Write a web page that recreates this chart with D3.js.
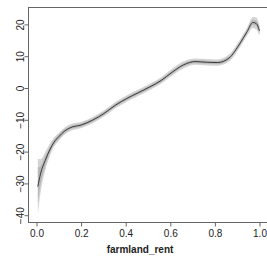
<!DOCTYPE html>
<html>
<head>
<meta charset="utf-8">
<script src="https://cdn.jsdelivr.net/npm/d3@7"></script>
<style>
  body { margin: 0; background: #fff; }
  svg { display: block; font-family: "Liberation Sans", Arial, sans-serif; }
</style>
</head>
<body>
<div id="chart"></div>
<script>
// partial dependence of farmland_rent
var xs   = [0.006, 0.018, 0.039, 0.059, 0.079, 0.1, 0.125, 0.151, 0.202, 0.252, 0.303, 0.354, 0.405, 0.456, 0.507, 0.558, 0.609, 0.66, 0.711, 0.762, 0.812, 0.863, 0.914, 0.945, 0.97, 0.985, 1.0];
var fit  = [-31, -27, -22.8, -19.5, -17, -15.3, -13.6, -12.5, -11.6, -10.1, -8, -5.4, -3.3, -1.5, 0.3, 2.3, 5, 7.3, 8.3, 8.1, 8.0, 9.4, 14.2, 17.8, 20.6, 20.3, 18];
var hiOut = [-22.2, -22.4, -20.2, -17.6, -15.6, -14.1, -12.5, -11.4, -10.6, -9.1, -7, -4.4, -2.3, -0.5, 1.3, 3.3, 6.1, 8.4, 9.3, 9.1, 9.0, 10.5, 15.4, 19.1, 22.3, 22.2, 19.8];
var loOut = [-39.8, -33, -26, -21.6, -18.5, -16.6, -14.7, -13.6, -12.6, -11.1, -9, -6.4, -4.3, -2.5, -0.7, 1.3, 3.9, 6.2, 7.3, 7.1, 7.0, 8.3, 13, 16.5, 18.9, 18.4, 16.3];
var hiIn = [-25, -24.5, -21.5, -18.6, -16.3, -14.7, -13.0, -12.0, -11.1, -9.6, -7.5, -4.9, -2.8, -1.0, 0.8, 2.8, 5.5, 7.8, 8.8, 8.6, 8.5, 9.9, 14.8, 18.4, 21.4, 21.2, 18.9];
var loIn = [-36, -30.5, -24.5, -20.6, -17.8, -16.0, -14.2, -13.0, -12.1, -10.6, -8.5, -5.9, -3.8, -2.0, -0.2, 1.8, 4.5, 6.8, 7.8, 7.6, 7.5, 8.9, 13.6, 17.2, 19.8, 19.4, 17.2];

var xTicks = [0, 0.2, 0.4, 0.6, 0.8, 1.0];
var yTicks = [-40, -30, -20, -10, 0, 10, 20];
var xLabel = "farmland_rent";

var width = 267, height = 264;
var box = {left: 28.5, top: 7.5, right: 275, bottom: 222.5};

var svg = d3.select("#chart").append("svg")
  .attr("width", width)
  .attr("height", height);

var x = d3.scaleLinear().domain([0, 1]).range([36.5, 259.5]);
var y = d3.scaleLinear().domain([-40, 20]).range([215.2, 24.4]);

var data = xs.map(function(d, i) {
  return {x: d, fit: fit[i], hiOut: hiOut[i], loOut: loOut[i], hiIn: hiIn[i], loIn: loIn[i]};
});

// bands
var areaOut = d3.area()
  .x(function(d) { return x(d.x); })
  .y0(function(d) { return y(d.loOut); })
  .y1(function(d) { return y(d.hiOut); })
  .curve(d3.curveMonotoneX);

var areaIn = d3.area()
  .x(function(d) { return x(d.x); })
  .y0(function(d) { return y(d.loIn); })
  .y1(function(d) { return y(d.hiIn); })
  .curve(d3.curveMonotoneX);

svg.append("path").datum(data)
  .attr("fill", "#d4d4d4")
  .attr("d", areaOut);

svg.append("path").datum(data)
  .attr("fill", "#b8b8b8")
  .attr("d", areaIn);

var line = d3.line()
  .x(function(d) { return x(d.x); })
  .y(function(d) { return y(d.fit); })
  .curve(d3.curveMonotoneX);

svg.append("path").datum(data)
  .attr("fill", "none")
  .attr("stroke", "#3a3a3a")
  .attr("stroke-width", 1)
  .attr("d", line);

// box
svg.append("rect")
  .attr("x", box.left)
  .attr("y", box.top)
  .attr("width", box.right - box.left)
  .attr("height", box.bottom - box.top)
  .attr("fill", "none")
  .attr("stroke", "#666");

// x axis
var xAxis = d3.axisBottom(x)
  .tickValues(xTicks)
  .tickFormat(d3.format(".1f"))
  .tickSize(4)
  .tickPadding(3);

var gx = svg.append("g")
  .attr("transform", "translate(0," + box.bottom + ")")
  .call(xAxis);
gx.select(".domain").remove();
gx.selectAll(".tick line").attr("stroke", "#666");
gx.selectAll(".tick text")
  .attr("fill", "#222")
  .style("font-size", "10px")
  .style("font-family", "Liberation Sans, Arial, sans-serif");

// y axis, labels turned like R does
var yAxis = d3.axisLeft(y)
  .tickValues(yTicks)
  .tickFormat(function(d) { return d < 0 ? "\u2212" + Math.abs(d) : d; })
  .tickSize(4);

var gy = svg.append("g")
  .attr("transform", "translate(" + box.left + ",0)")
  .call(yAxis);
gy.select(".domain").remove();
gy.selectAll(".tick line").attr("stroke", "#666");
gy.selectAll(".tick text")
  .attr("x", null)
  .attr("dy", null)
  .attr("transform", "translate(-5,0) rotate(-90)")
  .attr("text-anchor", "middle")
  .attr("fill", "#222")
  .style("font-size", "10px")
  .style("font-family", "Liberation Sans, Arial, sans-serif");

svg.append("text")
  .attr("x", 140)
  .attr("y", 253)
  .attr("text-anchor", "middle")
  .attr("fill", "#222")
  .style("font-size", "10px")
  .style("font-weight", "bold")
  .text(xLabel);
</script>
</body>
</html>
